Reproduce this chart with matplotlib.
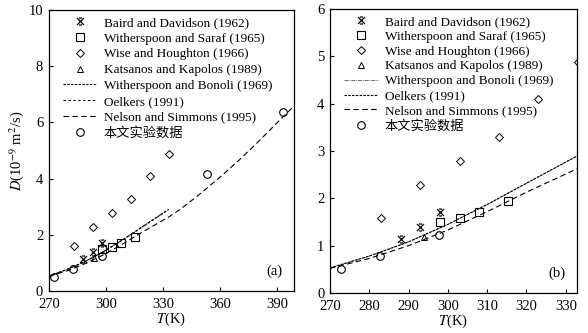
import matplotlib
matplotlib.use("Agg")
import matplotlib.pyplot as plt
from matplotlib.path import Path

plt.rcParams['font.family'] = ['Liberation Serif', 'Noto Sans CJK SC']
plt.rcParams['mathtext.fontset'] = 'stix'
plt.rcParams['font.size'] = 9

# measured points
baird_T = [288, 293, 298]
baird_D = [1.15, 1.39, 1.71]
saraf_T = [298, 303, 308, 315.4]
saraf_D = [1.51, 1.58, 1.71, 1.94]
wise_T = [283, 293, 303, 313, 323, 333]
wise_D = [1.59, 2.29, 2.79, 3.29, 4.09, 4.89]
kats_T = [294]
kats_D = [1.19]
ours_T = [272.8, 282.8, 297.8, 353, 393]
ours_D = [0.51, 0.79, 1.23, 4.17, 6.38]

# correlation curves
bonoli_T = [270, 280, 290, 300, 310, 320, 333]
bonoli_D = [0.53, 0.78, 1.08, 1.45, 1.87, 2.32, 2.9]
oelkers_T = [270, 280, 290, 300, 310, 320, 333]
oelkers_D = [0.53, 0.78, 1.08, 1.45, 1.87, 2.32, 2.9]
nelson_T = [270, 280, 290, 300, 310, 320, 333, 340, 350, 360, 370, 380, 390, 400]
nelson_D = [0.52, 0.73, 1.0, 1.33, 1.72, 2.13, 2.63, 2.95, 3.48, 4.05, 4.65, 5.3, 5.98, 6.65]

# x marker with short bars top and bottom
xbar = Path([(-1, -1), (1, 1), (-1, 1), (1, -1), (-0.45, 1), (0.45, 1), (-0.45, -1), (0.45, -1)],
            [Path.MOVETO, Path.LINETO, Path.MOVETO, Path.LINETO,
             Path.MOVETO, Path.LINETO, Path.MOVETO, Path.LINETO])


def draw_panel(ax, styles, xlim, ylim, xticks, yticks, tag, spacing):
    ax.plot(baird_T, baird_D, ls='none', marker=xbar, ms=5, mew=0.9, color='k',
            label='Baird and Davidson (1962)')
    ax.plot(saraf_T, saraf_D, ls='none', marker='s', ms=5.5, mfc='none', mew=0.8, color='k',
            label='Witherspoon and Saraf (1965)')
    ax.plot(wise_T, wise_D, ls='none', marker='D', ms=3.6, mfc='none', mew=0.7, color='k',
            label='Wise and Houghton (1966)')
    ax.plot(kats_T, kats_D, ls='none', marker='^', ms=5, mfc='none', mew=0.7, color='k',
            label='Katsanos and Kapolos (1989)')
    ax.plot(bonoli_T, bonoli_D, color=styles[0][1], lw=styles[0][2], ls=styles[0][0],
            label='Witherspoon and Bonoli (1969)')
    ax.plot(oelkers_T, oelkers_D, color='k', lw=0.8, ls=styles[1],
            label='Oelkers (1991)')
    ax.plot(nelson_T, nelson_D, color='k', lw=0.8, ls=(0, (5, 3)),
            label='Nelson and Simmons (1995)')
    ax.plot(ours_T, ours_D, ls='none', marker='o', ms=5.5, mfc='none', mew=0.8, color='k',
            label='本文实验数据')

    ax.set_xlim(*xlim)
    ax.set_ylim(*ylim)
    ax.set_xticks(xticks)
    ax.set_yticks(yticks)
    ax.tick_params(direction='in', length=3, width=0.8, labelsize=10.5)
    ax.tick_params(axis='x', pad=5)
    ax.tick_params(axis='y', pad=4)
    for s in ax.spines.values():
        s.set_linewidth(0.9)
    ax.set_xlabel(r'$T$(K)', fontsize=10.5, labelpad=0)
    ax.text(0.955, 0.07, tag, transform=ax.transAxes, ha='right', va='center', fontsize=10.5)
    ax.legend(loc='upper left', bbox_to_anchor=(0.03, 1.0), frameon=False, fontsize=9.5,
              handlelength=2.6, handletextpad=0.5, labelspacing=spacing, borderaxespad=0.1)


fig = plt.figure(figsize=(5.88, 3.33), dpi=100)
ax1 = fig.add_axes([0.083, 0.126, 0.417, 0.844])
ax2 = fig.add_axes([0.561, 0.12, 0.42, 0.853])

draw_panel(ax1, [((0, (2.2, 1.2)), 'k', 0.8), (0, (2.2, 2.2))], (270, 399), (0, 10),
           [270, 300, 330, 360, 390], [0, 2, 4, 6, 8, 10], '(a)', 0.27)
ax1.set_ylabel(r'$D$(10$^{-9}$ m$^2$/s)', fontsize=10.5, labelpad=2)

draw_panel(ax2, [((0, (5, 1, 1, 1)), '0.35', 0.6), (0, (2.2, 1.2))], (270, 332.8), (0, 6),
           [270, 280, 290, 300, 310, 320, 330], [0, 1, 2, 3, 4, 5, 6], '(b)', 0.2)

fig.savefig('out.png', dpi=100)
